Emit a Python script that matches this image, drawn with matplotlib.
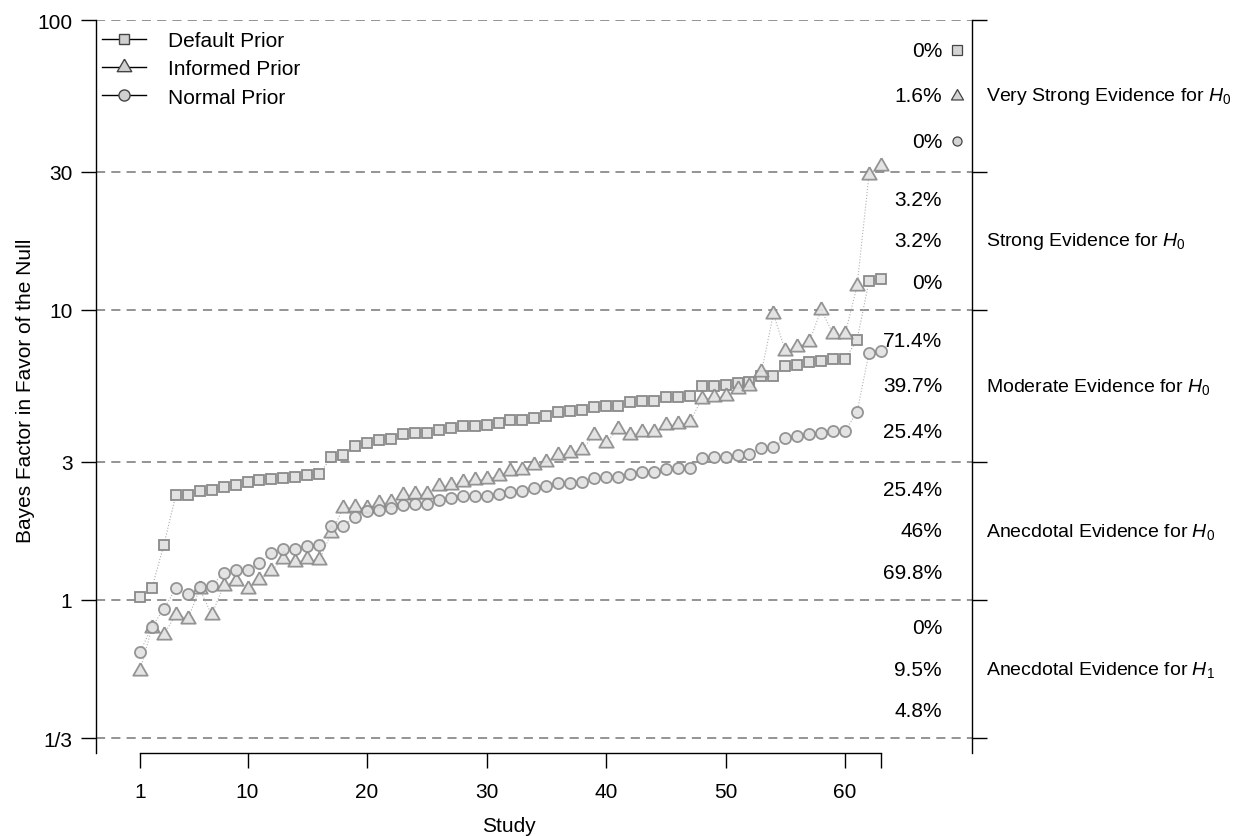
import numpy as np
import matplotlib
matplotlib.use("Agg")
import matplotlib.pyplot as plt
from matplotlib.lines import Line2D
from matplotlib.ticker import NullLocator

family = 'Liberation Sans'
plt.rcParams['font.family'] = [family, 'DejaVu Sans']
plt.rcParams['mathtext.fontset'] = 'custom'
plt.rcParams['mathtext.rm'] = family
plt.rcParams['mathtext.it'] = family + ':italic'

# Bayes factors per study (studies ordered by the default-prior BF)
study = np.arange(1, 64)
default_bf = [1.02, 1.10, 1.55, 2.30, 2.30, 2.38, 2.40, 2.46, 2.50, 2.55, 2.60, 2.62,
              2.64, 2.66, 2.70, 2.72, 3.10, 3.16, 3.40, 3.48, 3.57, 3.59, 3.74, 3.77,
              3.77, 3.87, 3.92, 3.98, 3.99, 4.01, 4.08, 4.18, 4.19, 4.25, 4.32, 4.46,
              4.48, 4.51, 4.63, 4.67, 4.68, 4.80, 4.86, 4.87, 5.00, 5.00, 5.04, 5.46,
              5.48, 5.51, 5.59, 5.66, 5.93, 5.93, 6.43, 6.48, 6.63, 6.68, 6.78, 6.78,
              7.87, 12.56, 12.79]
informed_bf = [0.57, 0.80, 0.76, 0.89, 0.86, 1.09, 0.89, 1.12, 1.16, 1.09, 1.17, 1.26,
               1.39, 1.35, 1.38, 1.37, 1.70, 2.07, 2.09, 2.07, 2.16, 2.17, 2.30, 2.32,
               2.32, 2.47, 2.49, 2.56, 2.59, 2.61, 2.67, 2.79, 2.81, 2.92, 3.00, 3.16,
               3.21, 3.30, 3.71, 3.48, 3.89, 3.71, 3.79, 3.79, 4.02, 4.05, 4.10, 4.93,
               5.00, 5.04, 5.34, 5.46, 6.10, 9.69, 7.24, 7.43, 7.78, 10.0, 8.27, 8.27,
               12.07, 29.2, 31.3]
normal_bf = [0.66, 0.81, 0.93, 1.10, 1.05, 1.11, 1.12, 1.24, 1.27, 1.27, 1.34, 1.45,
             1.50, 1.50, 1.54, 1.55, 1.80, 1.80, 1.94, 2.02, 2.05, 2.07, 2.13, 2.14,
             2.14, 2.22, 2.24, 2.28, 2.28, 2.29, 2.32, 2.36, 2.38, 2.43, 2.48, 2.53,
             2.53, 2.56, 2.63, 2.65, 2.65, 2.72, 2.76, 2.76, 2.83, 2.85, 2.85, 3.09,
             3.12, 3.12, 3.16, 3.19, 3.34, 3.36, 3.62, 3.67, 3.74, 3.76, 3.83, 3.83,
             4.44, 7.11, 7.24]

# evidence categories (top to bottom) and share of studies in each
cut_values = [1 / 3, 1, 3, 10, 30, 100]
cut_labels = ['1/3', '1', '3', '10', '30', '100']
band_labels = ['Very Strong Evidence for $H_0$', 'Strong Evidence for $H_0$',
               'Moderate Evidence for $H_0$', 'Anecdotal Evidence for $H_0$',
               'Anecdotal Evidence for $H_1$']
pct_default = ['0%', '3.2%', '71.4%', '25.4%', '0%']
pct_informed = ['1.6%', '3.2%', '39.7%', '46%', '9.5%']
pct_normal = ['0%', '0%', '25.4%', '69.8%', '4.8%']

tri = [(0, 1), (-0.866, -0.5), (0.866, -0.5), (0, 1)]
face = '#e2e2e2'
edge = '#8a8a8a'

fig = plt.figure(figsize=(12.34, 8.37), dpi=100)
ax = fig.add_axes([96 / 1234, 83 / 837, 876 / 1234, 733 / 837])
ax.set_yscale('log')
ax.set_ylim(0.2967, 100)
ax.set_xlim(-2.68, 70.62)

for v in cut_values:
    ax.axhline(v, color='#777777', lw=1.1, ls=(0, (6, 4)), zorder=1)

ax.plot(study, default_bf, ls=':', color='#aaaaaa', lw=0.8, marker='s', ms=7,
        mfc=face, mec=edge, mew=1.3, zorder=3)
ax.plot(study, informed_bf, ls=':', color='#aaaaaa', lw=0.8, marker=tri, ms=12,
        mfc=face, mec=edge, mew=1.3, zorder=3, alpha=0.9)
ax.plot(study, normal_bf, ls=':', color='#aaaaaa', lw=0.8, marker='o', ms=8,
        mfc=face, mec=edge, mew=1.3, zorder=3, alpha=0.9)

# spines / ticks
ax.spines['top'].set_visible(False)
ax.spines['bottom'].set_bounds(1, 63)
for s in ['left', 'right', 'bottom']:
    ax.spines[s].set_linewidth(1.0)
ax.set_xticks([1, 10, 20, 30, 40, 50, 60, 63])
ax.set_xticklabels(['1', '10', '20', '30', '40', '50', '60', ''])
ax.set_yticks(cut_values)
ax.set_yticklabels(cut_labels)
ax.yaxis.set_minor_locator(NullLocator())
ax.tick_params(axis='x', length=11, width=1, pad=10, labelsize=15)
ax.tick_params(axis='y', length=11, width=1, pad=6, labelsize=15, right=True)

ax.set_xlabel('Study', fontsize=15)
ax.xaxis.set_label_coords(0.4715, -0.086)
ax.set_ylabel('Bayes Factor in Favor of the Null', fontsize=15)
ax.yaxis.set_label_coords(-0.070, 0.496)

# percentages per band
lows = cut_values[::-1][1:]
highs = cut_values[::-1][:-1]
for i in range(5):
    lo, hi = lows[i], highs[i]
    for frac, txt in zip([0.8, 0.5, 0.2], [pct_default[i], pct_informed[i], pct_normal[i]]):
        y = lo * (hi / lo) ** frac
        ax.text(0.9658, y, txt, transform=ax.get_yaxis_transform(), ha='right',
                va='center', fontsize=15)
    ax.text(1.016, lo * (hi / lo) ** 0.5, band_labels[i], transform=ax.get_yaxis_transform(),
            ha='left', va='center', fontsize=14, clip_on=False)

# small key markers next to the top band
top_lo, top_hi = 30, 100
for frac, m, ms in zip([0.8, 0.5, 0.2], ['s', tri, 'o'], [6.5, 10, 6.5]):
    ax.plot([0.9829], [top_lo * (top_hi / top_lo) ** frac], marker=m, ms=ms, mfc='#d4d4d4',
            mec='#444444', mew=0.9, transform=ax.get_yaxis_transform(), clip_on=False)

handles = [Line2D([0], [0], color='black', lw=1, marker='s', ms=7, mfc='#d0d0d0',
                  mec='#444444', mew=1),
           Line2D([0], [0], color='black', lw=1, marker=tri, ms=12, mfc='#d0d0d0',
                  mec='#444444', mew=1),
           Line2D([0], [0], color='black', lw=1, marker='o', ms=8, mfc='#d0d0d0',
                  mec='#444444', mew=1)]
ax.legend(handles, ['Default Prior', 'Informed Prior', 'Normal Prior'], loc='upper left',
          bbox_to_anchor=(0.007, 0.985), frameon=False, fontsize=15, handlelength=2.1,
          handletextpad=1.05, labelspacing=0.45, borderpad=0, borderaxespad=0)

fig.savefig('out.png', dpi=100)
